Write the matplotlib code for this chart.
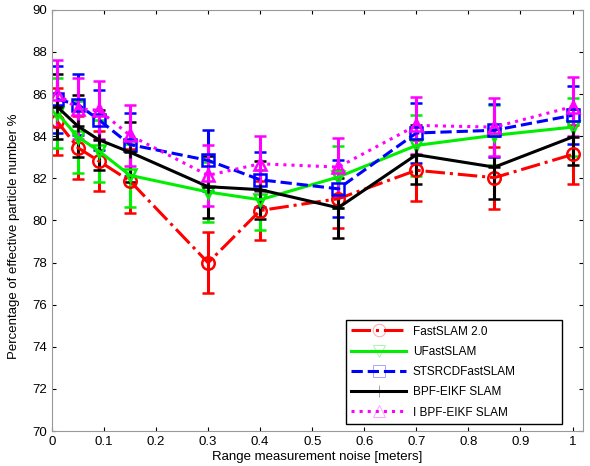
import matplotlib
matplotlib.use("Agg")
import matplotlib.pyplot as plt
from matplotlib.colors import to_rgba

plt.rcParams['font.family'] = ['Liberation Sans', 'DejaVu Sans']
plt.rcParams['font.size'] = 9.5

# range measurement noise [m]
noise = [0.01, 0.05, 0.09, 0.15, 0.3, 0.4, 0.55, 0.7, 0.85, 1.0]

fast2 = [84.7, 83.45, 82.82, 81.87, 77.99, 80.47, 81.03, 82.38, 82.03, 83.13]
fast2_err = [1.6, 1.5, 1.42, 1.5, 1.45, 1.4, 1.38, 1.45, 1.47, 1.42]

ufast = [85.1, 83.96, 83.3, 82.14, 81.35, 80.98, 82.06, 83.56, 84.04, 84.43]
ufast_err = [1.67, 1.69, 1.48, 1.51, 1.43, 1.42, 1.46, 1.45, 1.42, 1.39]

stsrcd = [85.75, 85.5, 84.78, 83.6, 82.85, 81.93, 81.5, 84.15, 84.28, 84.99]
stsrcd_err = [1.6, 1.45, 1.43, 1.5, 1.46, 1.3, 1.36, 1.42, 1.26, 1.38]

bpf = [85.4, 84.47, 83.83, 83.24, 81.6, 81.46, 80.6, 83.12, 82.53, 83.96]
bpf_err = [1.55, 1.47, 1.43, 1.43, 1.47, 1.37, 1.42, 1.41, 1.5, 1.35]

ibpf = [86.02, 85.3, 85.23, 84.04, 82.14, 82.69, 82.53, 84.51, 84.43, 85.4]
ibpf_err = [1.6, 1.45, 1.37, 1.46, 1.46, 1.3, 1.4, 1.34, 1.39, 1.4]

labels = ['FastSLAM 2.0', 'UFastSLAM', 'STSRCDFastSLAM', 'BPF-EIKF SLAM', 'I BPF-EIKF SLAM']

fig = plt.figure(figsize=(5.9, 4.66), dpi=100)
ax = fig.add_axes([0.088, 0.075, 0.9, 0.904])

series = [
    (fast2, fast2_err, 'red', '-.', 'o', labels[0]),
    (ufast, ufast_err, '#00ee00', '-', 'v', labels[1]),
    (stsrcd, stsrcd_err, 'blue', '--', 's', labels[2]),
    (bpf, bpf_err, 'black', '-', '+', labels[3]),
    (ibpf, ibpf_err, 'magenta', ':', '^', labels[4]),
]

for y, e, c, ls, mk, lab in series:
    ax.errorbar(noise, y, yerr=e, color=c, linestyle=ls, linewidth=2.2,
                marker=mk, markersize=9, markerfacecolor='none',
                markeredgewidth=1.8, elinewidth=2.2, capsize=4,
                capthick=2.2, label=lab)

ax.set_xlim(0, 1.02)
ax.set_ylim(70, 90)
ax.set_xticks([0, 0.1, 0.2, 0.3, 0.4, 0.5, 0.6, 0.7, 0.8, 0.9, 1])
ax.set_xticklabels(['0', '0.1', '0.2', '0.3', '0.4', '0.5', '0.6', '0.7', '0.8', '0.9', '1'])
ax.set_yticks(range(70, 91, 2))
ax.tick_params(direction='in', length=3, top=True, right=True, width=0.8)
for s in ax.spines.values():
    s.set_color('#999999')

ax.set_xlabel('Range measurement noise [meters]', labelpad=2)
ax.set_ylabel('Percentage of effective particle number %')
ax.yaxis.set_label_coords(-0.06, 0.463)

handles, labs = ax.get_legend_handles_labels()
handles = [h[0] for h in handles]
leg = ax.legend(handles, labs, loc='lower left',
                bbox_to_anchor=(0.554, 0.017, 0.407, 0.245), mode='expand',
                borderaxespad=0, fancybox=False, framealpha=1, edgecolor='black',
                handlelength=4.6, fontsize=8.5, labelspacing=0.7,
                borderpad=0.45, handletextpad=0.6)
leg.get_frame().set_linewidth(1.0)
for lh, s in zip(leg.get_lines(), series):
    lh.set_markeredgewidth(0.7)
    lh.set_markeredgecolor(to_rgba(s[2], 0.35))

fig.savefig('out.png', dpi=100)
